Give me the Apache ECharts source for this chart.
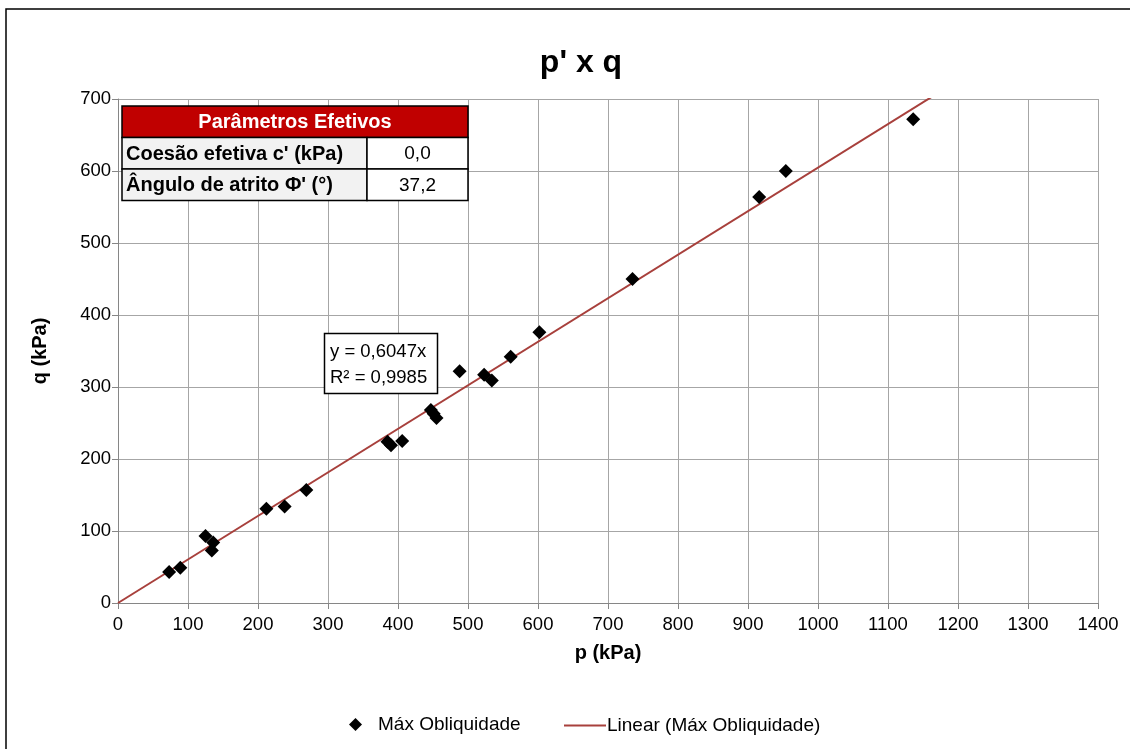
<!DOCTYPE html>
<html>
<head>
<meta charset="utf-8">
<script src="https://cdn.jsdelivr.net/npm/echarts@6/dist/echarts.min.js"></script>
<style>
html,body{margin:0;padding:0;background:#fff;}
#c{width:1130px;height:749px;}
</style>
</head>
<body>
<div id="c"></div>
<script>
// Data
const pValues = [73, 89, 125, 136, 134, 212, 238, 269, 385, 390, 406, 447, 451, 455, 488, 523, 534, 561, 602, 735, 916, 954, 1136];
const qValues = [43, 49, 93, 84, 73, 131, 134, 157, 224, 219, 225, 268, 263, 257, 322, 317, 309, 342, 376, 450, 564, 600, 672];
const trendX = [0, 1400];
const trendY = [0, 846.58];
const tableRows = [["Coesão efetiva c' (kPa)", "0,0"], ["Ângulo de atrito Φ' (°)", "37,2"]];
const tableTitle = "Parâmetros Efetivos";
const eqLines = ["y = 0,6047x", "R² = 0,9985"];

const FONT = "'Liberation Sans', Arial, sans-serif";
const chart = echarts.init(document.getElementById('c'));

const scatterData = pValues.map((p, i) => [p, qValues[i]]);
const trendData = trendX.map((x, i) => [x, trendY[i]]);

// table graphics
const tx = 122, ty = 106, tw = 346, splitX = 367, rowH = 31.5;
const g = [];
g.push({type:'rect', shape:{x:6, y:9, width:1130, height:760}, style:{fill:'none', stroke:'#000', lineWidth:1.5}, z:0, silent:true});
g.push({type:'rect', shape:{x:tx, y:ty, width:tw, height:rowH}, style:{fill:'#C00000', stroke:'#000', lineWidth:1.5}, z:10});
g.push({type:'text', x:tx+tw/2, y:ty+rowH/2+1, style:{text:tableTitle, fill:'#fff', font:"bold 20px " + FONT, align:'center', verticalAlign:'middle'}, z:11});
tableRows.forEach((r, i) => {
  const y = ty + rowH*(i+1);
  g.push({type:'rect', shape:{x:tx, y:y, width:splitX-tx, height:rowH}, style:{fill:'#F2F2F2', stroke:'#000', lineWidth:1.5}, z:10});
  g.push({type:'rect', shape:{x:splitX, y:y, width:tx+tw-splitX, height:rowH}, style:{fill:'#fff', stroke:'#000', lineWidth:1.5}, z:10});
  g.push({type:'text', x:tx+4, y:y+rowH/2+1, style:{text:r[0], fill:'#000', font:"bold 20px " + FONT, align:'left', verticalAlign:'middle'}, z:11});
  g.push({type:'text', x:(splitX+tx+tw)/2, y:y+rowH/2+1, style:{text:r[1], fill:'#000', font:"19px " + FONT, align:'center', verticalAlign:'middle'}, z:11});
});
// equation box
g.push({type:'rect', shape:{x:324.5, y:333.5, width:113, height:60}, style:{fill:'#fff', stroke:'#000', lineWidth:1.5}, z:10});
eqLines.forEach((t, i) => {
  g.push({type:'text', x:330, y:352 + i*26, style:{text:t, fill:'#000', font:"18.5px " + FONT, align:'left', verticalAlign:'middle'}, z:11});
});

chart.setOption({
  backgroundColor:'#fff',
  animation:false,
  title:{text:"p' x q", left:576, top:42, textAlign:'center', textStyle:{fontFamily:FONT, fontSize:32, fontWeight:'bold', color:'#000'}},
  grid:{left:118, right:32, top:99, bottom:146},
  legend:[
    {data:[{name:'Máx Obliquidade', icon:'diamond', itemStyle:{opacity:1}}], left:344, top:710, itemWidth:13, itemHeight:13, itemGap:10,
     textStyle:{fontFamily:FONT, fontSize:19, color:'#000', padding:[0,0,0,11]}},
    {data:[{name:'Linear (Máx Obliquidade)', icon:'rect'}], left:559, top:711, itemWidth:42, itemHeight:2, itemGap:4,
     textStyle:{fontFamily:FONT, fontSize:19, color:'#000', padding:[0,0,0,-4]}}
  ],
  xAxis:{type:'value', min:0, max:1400, interval:100, name:'p (kPa)', nameLocation:'middle', nameGap:40,
    nameTextStyle:{fontFamily:FONT, fontSize:20, fontWeight:'bold', color:'#000'},
    axisLine:{show:true, onZero:false, lineStyle:{color:'#868686', width:1}},
    axisTick:{show:true, length:6, lineStyle:{color:'#868686'}},
    axisLabel:{fontFamily:FONT, fontSize:18.5, color:'#000', margin:12, formatter:v => String(v)},
    splitLine:{show:true, lineStyle:{color:'#a6a6a6', width:1}}},
  yAxis:{type:'value', min:0, max:700, interval:100, name:'q (kPa)', nameLocation:'middle', nameGap:68, nameRotate:90,
    nameTextStyle:{fontFamily:FONT, fontSize:20, fontWeight:'bold', color:'#000'},
    axisLine:{show:true, lineStyle:{color:'#868686', width:1}},
    axisTick:{show:true, length:6, lineStyle:{color:'#868686'}},
    axisLabel:{fontFamily:FONT, fontSize:18.5, color:'#000', margin:7, formatter:v => String(v)},
    splitLine:{show:true, lineStyle:{color:'#a6a6a6', width:1}}},
  series:[
    {name:'Linear (Máx Obliquidade)', type:'line', data:trendData, symbol:'none', clip:true,
     lineStyle:{color:'#A8403C', width:2}, itemStyle:{color:'#A8403C'}, z:2},
    {name:'Máx Obliquidade', type:'scatter', data:scatterData, symbol:'diamond', symbolSize:14,
     itemStyle:{color:'#000', opacity:1}, z:3}
  ],
  graphic:g
});
</script>
</body>
</html>
